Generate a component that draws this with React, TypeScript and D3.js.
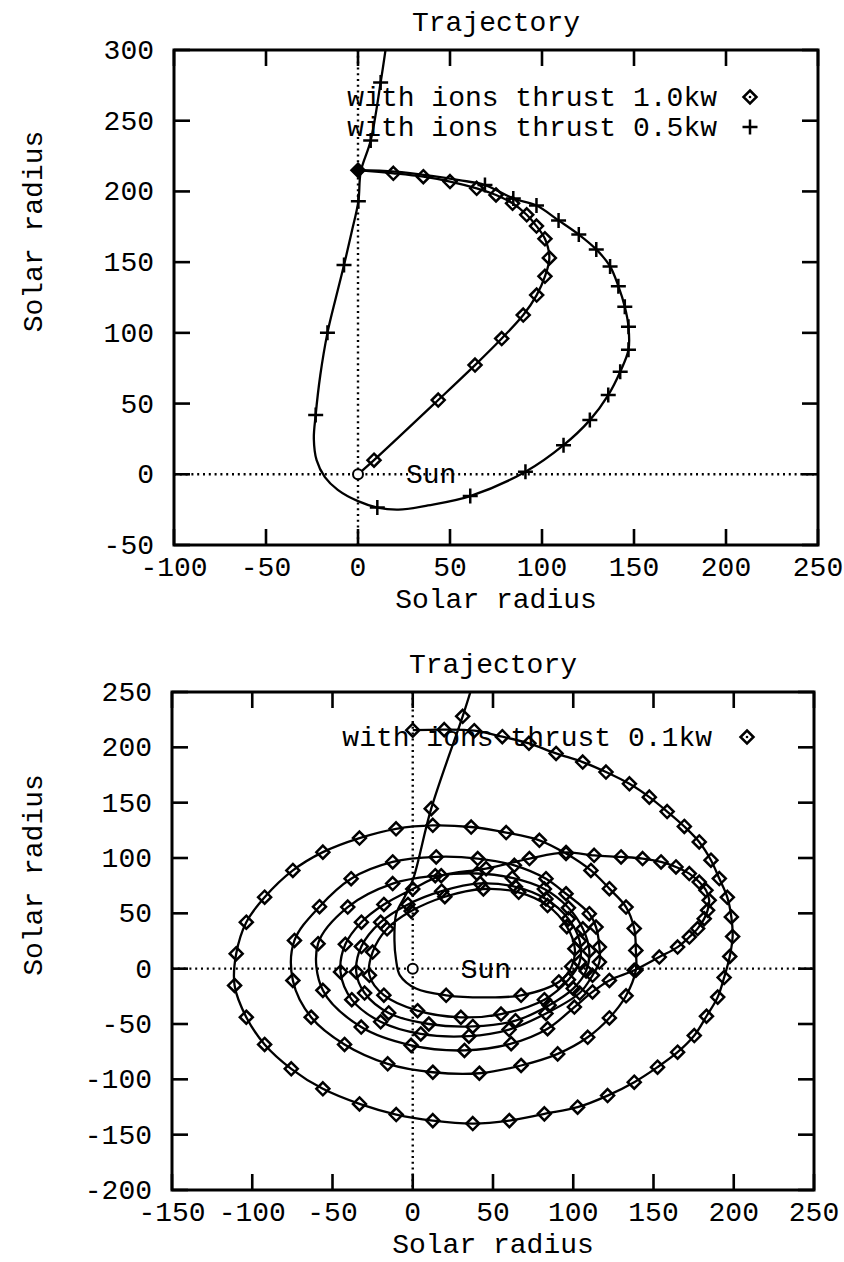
import React from 'react';
import * as d3 from 'd3';

// ---------- tick values ----------
const topXTicks = [-100, -50, 0, 50, 100, 150, 200, 250];
const topYTicks = [-50, 0, 50, 100, 150, 200, 250, 300];
const botXTicks = [-150, -100, -50, 0, 50, 100, 150, 200, 250];
const botYTicks = [-200, -150, -100, -50, 0, 50, 100, 150, 200, 250];

// ---------- texts ----------
const titleText = 'Trajectory';
const axisLabel = 'Solar radius';
const sunLabel = 'Sun';
const topLegend = ['with ions thrust 1.0kw', 'with ions thrust 0.5kw'];
const botLegend = ['with ions thrust 0.1kw'];

// ---------- data: [x, y, marker(0 none, 1 symbol, 2 filled)] ----------
const thrust10 = [
  [0, 215, 2], [19.2, 212.8, 1], [35.5, 210.4, 1], [50, 207, 1], [64.5, 202.2, 1],
  [75, 197.5, 1], [84, 191.6, 1], [91.7, 183.5, 1], [97, 175.5, 1], [101.6, 166.5, 1],
  [104, 153, 1], [101.6, 140, 1], [97.1, 126.7, 1], [89.8, 112.6, 1], [78.1, 96, 1],
  [63.6, 77.2, 1], [43.6, 52.5, 1], [8.7, 10, 1], [0, 0, 0],
];

const thrust05 = [
  [0, 215, 0], [20, 214, 0], [40, 211, 0], [55, 208, 0], [69, 204.5, 1],
  [84.4, 195, 1], [97, 190, 1], [109, 179.5, 1], [120, 169.5, 1], [129.5, 159, 1],
  [137, 147, 1], [141.5, 133, 1], [145, 118.5, 1], [147, 104.3, 1], [147, 88, 1],
  [142.5, 72.5, 1], [136, 56, 1], [126, 38.3, 1], [111.7, 20.6, 1], [91, 1.8, 1],
  [61, -15.4, 1], [38, -22, 0], [22, -25, 0], [10.5, -23.5, 1], [0, -19, 0],
  [-11, -11, 0], [-18, -2, 0], [-22.5, 10, 0], [-24, 25, 0], [-23, 42, 1],
  [-20.5, 70, 0], [-16.6, 100, 1], [-12, 125, 0], [-7.6, 148, 1], [-3.5, 171, 0],
  [0.2, 193, 1], [1.5, 214, 0], [6.9, 236, 1], [12.3, 277, 1], [15.5, 305, 0],
];

const thrust01 = [
  // first (outer) revolution
  [0, 215.5, 1], [19.6, 216, 1], [38.3, 215, 1], [55.8, 209.6, 1], [72.4, 203.6, 1],
  [89.3, 194.5, 1], [105.9, 186.7, 1], [120.4, 177.7, 1], [135, 167, 1], [147.4, 155, 1],
  [158.5, 142, 1], [169.2, 128.5, 1], [178.5, 114.5, 1], [185.8, 98, 1], [191, 81.4, 1],
  [196, 64.5, 1], [198.5, 46.7, 1], [199.3, 29, 1], [197.5, 11, 1], [194, -8, 1],
  [190, -25.7, 1], [183, -43, 1], [175.4, -60.4, 1], [165, -75.5, 1], [152.5, -89, 1],
  [138, -102.6, 1], [121.4, -114.7, 1], [102.7, -125.2, 1], [82, -131.2, 1], [60.2, -137.3, 1],
  [37.4, -140, 1], [12.5, -137.3, 1], [-10.3, -131.8, 1], [-33.2, -122.2, 1], [-56, -108.6, 1],
  [-75.7, -90.5, 1], [-92.3, -68.5, 1], [-103.7, -43.9, 1], [-111, -15.2, 1], [-110, 13.5, 1],
  [-103.7, 42, 1], [-92.3, 64.6, 1], [-74.7, 88.8, 1], [-56, 105.3, 1], [-33.2, 118, 1],
  [-10.4, 126.4, 1], [12.5, 129.5, 1], [36.4, 128, 1], [58.2, 123, 1], [78.9, 116, 1],
  [95.5, 104, 1], [111, 88.8, 1], [122.5, 72.3, 1], [132.9, 55.7, 1], [138, 36.2, 1],
  [139, 16.5, 1], [139, -1.5, 1],
  // second revolution
  [132.9, -24.5, 1], [122.5, -44.5, 1], [109, -62, 1], [90.3, -77, 1], [67.5, -87.5, 1],
  [41.5, -94.5, 1], [12.5, -93.6, 1], [-15.6, -86, 1], [-42.5, -68.5, 1], [-63.3, -43.9, 1],
  [-74.7, -10.7, 1], [-73.7, 25.5, 1], [-58.1, 56, 1], [-38.4, 81.3, 1], [-12.5, 96.4, 1],
  [14.6, 101, 1], [40.5, 99.5, 1], [63.3, 93.4, 1], [83, 81.3, 1], [95.5, 67.7, 1],
  // third revolution
  [110, 49.7, 1], [114.2, 37.6, 1], [116.3, 19.5, 1], [116.3, 6, 1], [112, -6, 1],
  [104, -22, 1], [83, -40.5, 1], [60, -55, 1], [35, -61, 1], [5, -59, 1],
  [-20, -48, 1], [-38, -28, 1], [-45, -3, 1], [-42, 22, 1], [-32, 42, 1],
  [-18, 58, 1], [0, 72, 1], [17.7, 84, 1], [45.7, 90.4, 1], [72.7, 99.5, 1],
  [95.5, 105, 1],
  // outward excursion to the right
  [113, 102.4, 1], [129.8, 101, 1], [143.2, 99.5, 1], [154.7, 96.4, 1], [164, 91.9, 1],
  [172.3, 85.9, 1], [178.5, 78.3, 1], [182.7, 70.8, 1], [184.7, 61.8, 1], [183.7, 52.7, 1],
  [181.6, 45.2, 1], [177.5, 36.2, 1], [172.3, 28.6, 1], [165, 19.5, 1], [153.6, 10.5, 1],
  [138, -1.5, 1], [122.5, -10.6, 1], [112, -21, 1], [100.7, -34.7, 1], [84, -54.3, 1],
  [61.3, -67.8, 1], [32.2, -73.9, 1], [-1, -69.3, 1], [-32.1, -52.8, 1], [-56, -19.6, 1],
  [-59, 22.6, 1], [-40.5, 55.7, 1], [-12.5, 76.9, 1], [14, 84, 1], [40, 86, 1],
  [62, 82, 1], [82, 72, 1], [97, 55, 1], [106, 36, 1], [110, 16, 1],
  [108, -2, 1], [100, -18, 1],
  // inner revolutions
  [85, -33, 1], [64, -47, 1], [37.4, -52.2, 1], [10, -50, 1], [-15, -40, 1],
  [-30, -22, 1], [-35.2, -3, 1], [-32, 20, 1], [-20, 42, 1], [-3, 58, 1],
  [18, 70, 1], [42, 77, 1], [64, 74, 1], [83, 63, 1], [97, 45, 1],
  [104, 25, 1], [104, 6, 1], [97, -10, 1],
  [82, -28, 1], [55, -41, 1], [30, -44, 1], [3, -38, 1], [-18, -24, 1],
  [-27, -6, 1], [-25, 15, 1], [-16, 36, 1], [-1, 52, 1], [20, 65, 1],
  [44, 72, 1], [66, 69, 1], [84, 57, 1], [96, 38, 1], [101, 18, 1],
  [99, 2, 1], [91, -12, 1],
  // last pass and escape
  [67.5, -24.1, 1], [44, -26, 0], [20.8, -24.1, 1], [2, -18, 0], [-8, -6, 0],
  [-10.4, 8, 0], [-11.4, 25.5, 0], [-10.3, 49.6, 0], [-5, 65, 0], [0, 80, 0],
  [11.5, 144.6, 1], [31.1, 228, 1], [37, 255, 0],
];

const FONT = "'Liberation Mono', 'Courier New', monospace";
const FS = 28;

type Pt = number[];
interface Series { data: Pt[]; symbol: 'diamond' | 'plus'; }

function Marker({ x, y, symbol, filled }: { x: number; y: number; symbol: string; filled?: boolean }) {
  if (symbol === 'plus') {
    const s = 7.5;
    return <path d={`M${x - s},${y}H${x + s}M${x},${y - s}V${y + s}`} stroke="#000" strokeWidth={2.5} fill="none" />;
  }
  const s = 6.5;
  return (
    <path
      d={`M${x},${y - s}L${x + s},${y}L${x},${y + s}L${x - s},${y}Z`}
      stroke="#000"
      strokeWidth={2.5}
      fill={filled ? '#000' : 'none'}
    />
  );
}

function Panel(props: {
  id: string;
  xDomain: number[]; yDomain: number[]; xRange: number[]; yRange: number[];
  xTicks: number[]; yTicks: number[]; series: Series[]; legend: string[];
  legendRight: number; legendBase: number; legendSymX: number;
}) {
  const { id, xDomain, yDomain, xRange, yRange, xTicks, yTicks, series, legend, legendRight, legendBase, legendSymX } = props;
  const xs = d3.scaleLinear().domain(xDomain).range(xRange);
  const ys = d3.scaleLinear().domain(yDomain).range(yRange);
  const [left, right] = xRange;
  const [bottom, top] = yRange;
  const line = d3.line<Pt>().x(d => xs(d[0])).y(d => ys(d[1])).curve(d3.curveCatmullRom.alpha(0.5));
  const tickLen = 16;
  const midX = (left + right) / 2;
  const midY = (top + bottom) / 2;
  return (
    <g>
      <defs>
        <clipPath id={id}>
          <rect x={left} y={top} width={right - left} height={bottom - top} />
        </clipPath>
      </defs>
      {/* dotted zero axes */}
      <line x1={left} x2={right} y1={ys(0)} y2={ys(0)} stroke="#000" strokeWidth={2.4} strokeDasharray="2,3.8" />
      <line x1={xs(0)} x2={xs(0)} y1={top} y2={bottom} stroke="#000" strokeWidth={2.4} strokeDasharray="2,3.8" />
      {/* sun label */}
      <text x={xs(0) + 48} y={ys(0) + 9} fontFamily={FONT} fontSize={FS}>{sunLabel}</text>
      <g clipPath={`url(#${id})`}>
        {series.map((s, i) => (
          <g key={i}>
            <path d={line(s.data) || ''} fill="none" stroke="#000" strokeWidth={2.3} />
            {s.data.filter(d => d[2] > 0).map((d, j) => (
              <Marker key={j} x={xs(d[0])} y={ys(d[1])} symbol={s.symbol} filled={d[2] === 2} />
            ))}
          </g>
        ))}
      </g>
      {/* sun */}
      <circle cx={xs(0)} cy={ys(0)} r={5} fill="#fff" stroke="#000" strokeWidth={2} />
      {/* frame */}
      <rect x={left} y={top} width={right - left} height={bottom - top} fill="none" stroke="#000" strokeWidth={3} />
      {/* ticks */}
      {xTicks.map(t => (
        <g key={`xt${t}`}>
          <line x1={xs(t)} x2={xs(t)} y1={bottom} y2={bottom - tickLen} stroke="#000" strokeWidth={2.6} />
          <line x1={xs(t)} x2={xs(t)} y1={top} y2={top + tickLen} stroke="#000" strokeWidth={2.6} />
          <text x={xs(t)} y={bottom + 31} textAnchor="middle" fontFamily={FONT} fontSize={FS}>{t}</text>
        </g>
      ))}
      {yTicks.map(t => (
        <g key={`yt${t}`}>
          <line x1={left} x2={left + tickLen} y1={ys(t)} y2={ys(t)} stroke="#000" strokeWidth={2.6} />
          <line x1={right} x2={right - tickLen} y1={ys(t)} y2={ys(t)} stroke="#000" strokeWidth={2.6} />
          <text x={left - 20} y={ys(t) + 9} textAnchor="end" fontFamily={FONT} fontSize={FS}>{t}</text>
        </g>
      ))}
      {/* titles */}
      <text x={midX} y={top - 19} textAnchor="middle" fontFamily={FONT} fontSize={FS}>{titleText}</text>
      <text x={midX} y={bottom + 63} textAnchor="middle" fontFamily={FONT} fontSize={FS}>{axisLabel}</text>
      <text transform={`translate(42,${midY - 66}) rotate(-90)`} textAnchor="middle" fontFamily={FONT} fontSize={FS}>{axisLabel}</text>
      {/* legend */}
      {legend.map((l, i) => (
        <g key={l}>
          <text x={legendRight} y={legendBase + i * 30} textAnchor="end" fontFamily={FONT} fontSize={FS}>{l}</text>
          {series[i].symbol === 'plus' ? (
            <Marker x={legendSymX} y={legendBase + i * 30 - 9} symbol="plus" />
          ) : (
            <g>
              <Marker x={legendSymX} y={legendBase + i * 30 - 9} symbol="diamond" />
              <circle cx={legendSymX} cy={legendBase + i * 30 - 9} r={1.3} fill="#000" />
            </g>
          )}
        </g>
      ))}
    </g>
  );
}

export default function App() {
  return (
    <svg width={844} height={1262} style={{ position: 'absolute', left: 0, top: 0, background: '#fff' }}>
      <rect x={0} y={0} width={844} height={1262} fill="#fff" />
      <Panel
        id="clipTop"
        xDomain={[-100, 250]} yDomain={[-50, 300]}
        xRange={[174, 818]} yRange={[545, 50]}
        xTicks={topXTicks} yTicks={topYTicks}
        series={[{ data: thrust10, symbol: 'diamond' }, { data: thrust05, symbol: 'plus' }]}
        legend={topLegend} legendRight={717} legendBase={106} legendSymX={750}
      />
      <Panel
        id="clipBot"
        xDomain={[-150, 250]} yDomain={[-200, 250]}
        xRange={[172, 814]} yRange={[1190, 692]}
        xTicks={botXTicks} yTicks={botYTicks}
        series={[{ data: thrust01, symbol: 'diamond' }]}
        legend={botLegend} legendRight={712} legendBase={746} legendSymX={747}
      />
    </svg>
  );
}
